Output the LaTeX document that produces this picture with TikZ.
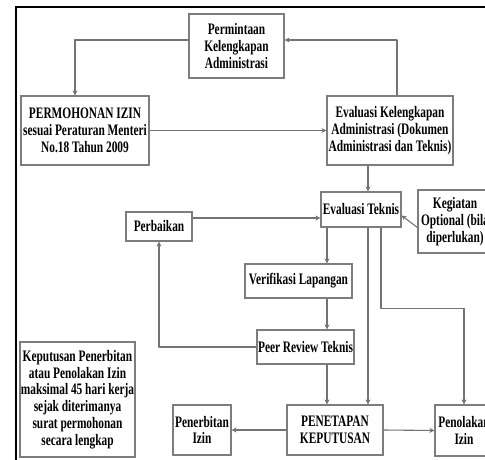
\documentclass[tikz,border=0pt]{standalone}
\usepackage{fontspec}
\setmainfont{Liberation Serif}
\newfontfamily\narrowserif[FakeStretch=0.71]{Liberation Serif}
\usetikzlibrary{arrows.meta}

\begin{document}
\begin{tikzpicture}[x=1pt,y=-1pt,
  box/.style={draw=boxColor,line width=1.1pt,fill=fillColor,align=center,inner sep=0pt,
    font=\narrowserif\bfseries\fontsize{16}{16.7}\selectfont},
  flow/.style={draw=lineColor,line width=1.1pt,line join=round,-{Stealth[length=5pt,width=5pt]}}]
\definecolor{fillColor}{RGB}{255,255,255}
\definecolor{boxColor}{RGB}{125,125,125}
\definecolor{lineColor}{RGB}{115,115,115}
\path[use as bounding box,fill=fillColor] (0,0) rectangle (485,460);
\begin{scope}
\path[clip] (0,0) rectangle (485,460);
\definecolor{drawColor}{RGB}{0,0,0}

\path[draw=drawColor,line width=1.5pt] (16,461) -- (16,7) -- (486,7);
\end{scope}
\begin{scope}
\path[clip] (0,0) rectangle (485,460);

\node[box,minimum width=95pt,minimum height=64pt] (perm) at (236.5,46) {Permintaan\\Kelengkapan\\Administrasi};

\node[box,minimum width=128pt,minimum height=69pt] (mohon) at (85,130.5) {PERMOHONAN IZIN\\sesuai Peraturan Menteri\\No.18 Tahun 2009};

\node[box,minimum width=126pt,minimum height=69pt] (evkel) at (390,130.5) {Evaluasi Kelengkapan\\Administrasi (Dokumen\\Administrasi dan Teknis)};

\node[box,minimum width=80pt,minimum height=35pt] (evtek) at (361,209.5) {Evaluasi Teknis};

\node[box,minimum width=74pt,minimum height=63pt] (opsi) at (455,221.5) {Kegiatan\\Optional (bila\\diperlukan)};

\node[box,minimum width=66pt,minimum height=29pt] (perb) at (159,226.5) {Perbaikan};

\node[box,minimum width=107pt,minimum height=34pt] (verif) at (298.5,281) {Verifikasi Lapangan};

\node[box,minimum width=97pt,minimum height=34pt] (peer) at (305.5,347) {Peer Review Teknis};

\node[box,minimum width=96pt,minimum height=50pt] (tetap) at (335,430) {PENETAPAN\\KEPUTUSAN};

\node[box,minimum width=58pt,minimum height=50pt] (terbit) at (202,430) {Penerbitan\\Izin};

\node[box,minimum width=58pt,minimum height=51pt] (tolak) at (464,430.5) {Penolakan\\Izin};

\node[box,minimum width=115pt,minimum height=115pt] (putus) at (77.5,399.5) {Keputusan Penerbitan\\atau Penolakan Izin\\maksimal 45 hari kerja\\sejak diterimanya\\surat permohonan\\secara lengkap};
\end{scope}
\begin{scope}
\path[clip] (0,0) rectangle (485,460);

\draw[flow] ([yshift=6pt]perm.west) -| ([xshift=-10pt]mohon.north);

\draw[flow] ([xshift=7pt]evkel.north) |- ([yshift=6pt]perm.east);

\draw[flow] (mohon.east) -- (evkel.west);

\draw[flow] ([xshift=-22pt]evkel.south) -- ([xshift=7pt]evtek.north);

\draw[flow] ([yshift=-6pt]opsi.west) -- ([yshift=-6pt]evtek.east);

\draw[flow] ([yshift=8.5pt]perb.east) -- ([yshift=-8.5pt]evtek.west);

\draw[flow] ([xshift=-34pt]evtek.south) -- ([xshift=28.5pt]verif.north);

\draw[flow] ([xshift=28.5pt]verif.south) -- ([xshift=21.5pt]peer.north);

\draw[flow] ([xshift=21.5pt]peer.south) -- ([xshift=-8pt]tetap.north);

\draw[flow] ([xshift=7pt]evtek.south) -- ([xshift=33pt]tetap.north);

\draw[flow] ([xshift=20pt]evtek.south) -- ++(0,81) -| (tolak.north);

\draw[flow] (peer.west) -| (perb.south);

\draw[flow] (tetap.west) -- (terbit.east);

\draw[flow] (tetap.east) -- (tolak.west);
\end{scope}
\end{tikzpicture}
\end{document}
